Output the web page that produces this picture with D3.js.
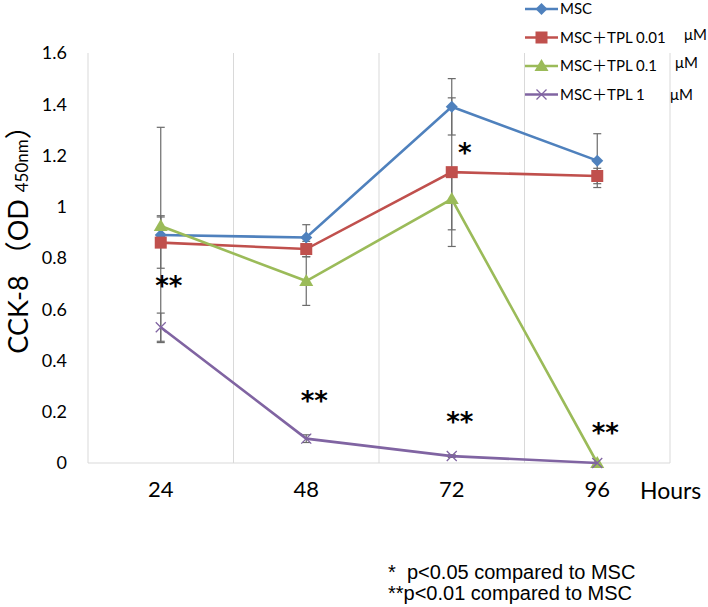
<!DOCTYPE html>
<html>
<head>
<meta charset="utf-8">
<script src="https://cdn.jsdelivr.net/npm/d3@7"></script>
<style>
  body { margin: 0; background: #fff; }
  svg { display: block; }
</style>
</head>
<body>
<script>
const hours = ['24', '48', '72', '96']
const seriesNames = ['MSC', 'MSC＋TPL 0.01', 'MSC＋TPL 0.1', 'MSC＋TPL 1']
const msc = [0.89, 0.88, 1.39, 1.18]
const tpl001 = [0.86, 0.835, 1.135, 1.12]
const tpl01 = [0.925, 0.71, 1.03, 0]
const tpl1 = [0.53, 0.095, 0.027, 0]
const mscErr = [0.42, 0.05, 0.11, 0.105]
const tpl001Err = [0.1, 0.03, 0.29, 0.03]
const tpl01Err = [0.04, 0.095, 0.12, 0]
const tpl1Err = [0.055, 0.015, 0.005, 0]
const yTicks = [0, 0.2, 0.4, 0.6, 0.8, 1, 1.2, 1.4, 1.6]
const starHours = ['24', '48', '72', '72', '96']
const starValues = [0.71, 0.26, 1.23, 0.18, 0.135]
const starTexts = ['**', '**', '*', '**', '**']
const footnotes = ['*  p<0.05 compared to MSC', '**p<0.01 compared to MSC']

const colors = ['#4f81bd', '#c0504d', '#9bbb59', '#8064a2']
const markers = ['diamond', 'square', 'triangle', 'x']
const font = 'Lato, "Noto Sans CJK SC", sans-serif'

const series = [
  { name: seriesNames[0], values: msc, errs: mscErr },
  { name: seriesNames[1], values: tpl001, errs: tpl001Err },
  { name: seriesNames[2], values: tpl01, errs: tpl01Err },
  { name: seriesNames[3], values: tpl1, errs: tpl1Err }
]

const w = 708
const h = 607
const svg = d3.select('body').append('svg')
  .attr('width', w)
  .attr('height', h)

const x = d3.scaleBand()
  .domain(hours)
  .range([88, 670])
const cx = d => x(d) + x.bandwidth() / 2

const y = d3.scaleLinear()
  .domain([0, 1.6])
  .range([463, 53])

// vertical grid lines at band edges
const edges = hours.map(d => x(d)).concat([x.range()[1]])
svg.append('g')
  .selectAll('line')
  .data(edges)
  .enter()
  .append('line')
  .attr('x1', d => d).attr('x2', d => d)
  .attr('y1', y(1.6)).attr('y2', y(0))
  .attr('stroke', '#d9d9d9')
  .attr('stroke-width', 1)

svg.append('line')
  .attr('x1', x.range()[0]).attr('x2', x.range()[1])
  .attr('y1', y(0)).attr('y2', y(0))
  .attr('stroke', '#d9d9d9')

// y axis labels
const yAxis = svg.append('g')
  .attr('transform', `translate(${x.range()[0]},0)`)
  .call(d3.axisLeft(y).tickValues(yTicks).tickSize(0).tickPadding(21).tickFormat(d3.format('~g')))
yAxis.select('.domain').remove()
yAxis.selectAll('text')
  .attr('font-family', font)
  .attr('font-size', 18)
  .attr('fill', '#000')

// x axis labels
const xAxis = svg.append('g')
  .attr('transform', `translate(0,${y(0)})`)
  .call(d3.axisBottom(x).tickSize(0).tickPadding(18))
xAxis.select('.domain').remove()
xAxis.selectAll('text')
  .attr('font-family', font)
  .attr('font-size', 22)
  .attr('fill', '#000')

svg.append('text')
  .attr('x', 640)
  .attr('y', 499)
  .attr('font-family', font)
  .attr('font-size', 23)
  .text('Hours')

// y title
const yTitle = svg.append('text')
  .attr('transform', 'translate(28,233) rotate(-90)')
  .attr('text-anchor', 'middle')
  .attr('font-family', font)
  .attr('font-size', 27)
yTitle.append('tspan').text('CCK-8 （OD ')
yTitle.append('tspan').attr('font-size', 17).text('450nm')
yTitle.append('tspan').text('）')

// error bars
series.forEach(s => {
  const g = svg.append('g')
  hours.forEach((hr, i) => {
    if (!s.errs[i]) return
    const top = y(s.values[i] + s.errs[i])
    const bot = y(Math.max(0, s.values[i] - s.errs[i]))
    g.append('line')
      .attr('x1', cx(hr)).attr('x2', cx(hr))
      .attr('y1', top).attr('y2', bot)
      .attr('stroke', '#6b6b6b').attr('stroke-width', 1.2)
    ;[top, bot].forEach(v => {
      g.append('line')
        .attr('x1', cx(hr) - 4).attr('x2', cx(hr) + 4)
        .attr('y1', v).attr('y2', v)
        .attr('stroke', '#6b6b6b').attr('stroke-width', 1.2)
    })
  })
})

const drawMarker = (g, type, px, py, color) => {
  if (type === 'diamond') {
    g.append('path')
      .attr('d', `M${px},${py - 6}L${px + 6},${py}L${px},${py + 6}L${px - 6},${py}Z`)
      .attr('fill', color)
  } else if (type === 'square') {
    g.append('rect')
      .attr('x', px - 6).attr('y', py - 6)
      .attr('width', 12).attr('height', 12)
      .attr('fill', color)
  } else if (type === 'triangle') {
    g.append('path')
      .attr('d', `M${px},${py - 7}L${px + 7},${py + 5}L${px - 7},${py + 5}Z`)
      .attr('fill', color)
  } else {
    g.append('path')
      .attr('d', `M${px - 5},${py - 5}L${px + 5},${py + 5}M${px - 5},${py + 5}L${px + 5},${py - 5}`)
      .attr('stroke', color).attr('stroke-width', 1.3).attr('fill', 'none')
  }
}

const line = d3.line()
  .x(d => cx(d[0]))
  .y(d => y(d[1]))

series.forEach((s, k) => {
  const pts = hours.map((hr, i) => [hr, s.values[i]])
  svg.append('path')
    .datum(pts)
    .attr('d', line)
    .attr('fill', 'none')
    .attr('stroke', colors[k])
    .attr('stroke-width', 2.6)
  const g = svg.append('g')
  pts.forEach(p => drawMarker(g, markers[k], cx(p[0]), y(p[1]), colors[k]))
})

// significance stars
svg.append('g')
  .selectAll('text')
  .data(starTexts)
  .enter()
  .append('text')
  .attr('x', (d, i) => cx(starHours[i]) + (d === '*' ? 13 : 8))
  .attr('y', (d, i) => y(starValues[i]) + 14)
  .attr('text-anchor', 'middle')
  .attr('font-family', 'DejaVu Sans, sans-serif')
  .attr('font-weight', 'bold')
  .attr('font-size', 26)
  .text(d => d)

// legend
const legend = svg.append('g')
  .selectAll('g')
  .data(series)
  .enter()
  .append('g')
  .attr('transform', (d, i) => `translate(525,${9 + i * 28.5})`)
legend.append('line')
  .attr('x1', 0).attr('x2', 33)
  .attr('stroke', (d, i) => colors[i])
  .attr('stroke-width', 2.6)
legend.each(function (d, i) {
  drawMarker(d3.select(this), markers[i], 16.5, 0, colors[i])
})
legend.append('text')
  .attr('x', 35)
  .attr('dy', '0.35em')
  .attr('font-family', font)
  .attr('font-size', 15)
  .text(d => d.name)
const umX = [0, 159, 150, 145]
legend.filter((d, i) => i > 0)
  .append('text')
  .attr('x', (d, i) => umX[i + 1])
  .attr('dy', (d, i) => i === 2 ? '0.35em' : '0.15em')
  .attr('font-family', font)
  .attr('font-size', 15)
  .text('μM')

// footnotes
svg.append('g')
  .selectAll('text')
  .data(footnotes)
  .enter()
  .append('text')
  .attr('x', 388)
  .attr('y', (d, i) => 579 + i * 21)
  .attr('font-family', 'Liberation Sans, Arial, sans-serif')
  .attr('font-size', 20)
  .style('white-space', 'pre')
  .text(d => d)
</script>
</body>
</html>
